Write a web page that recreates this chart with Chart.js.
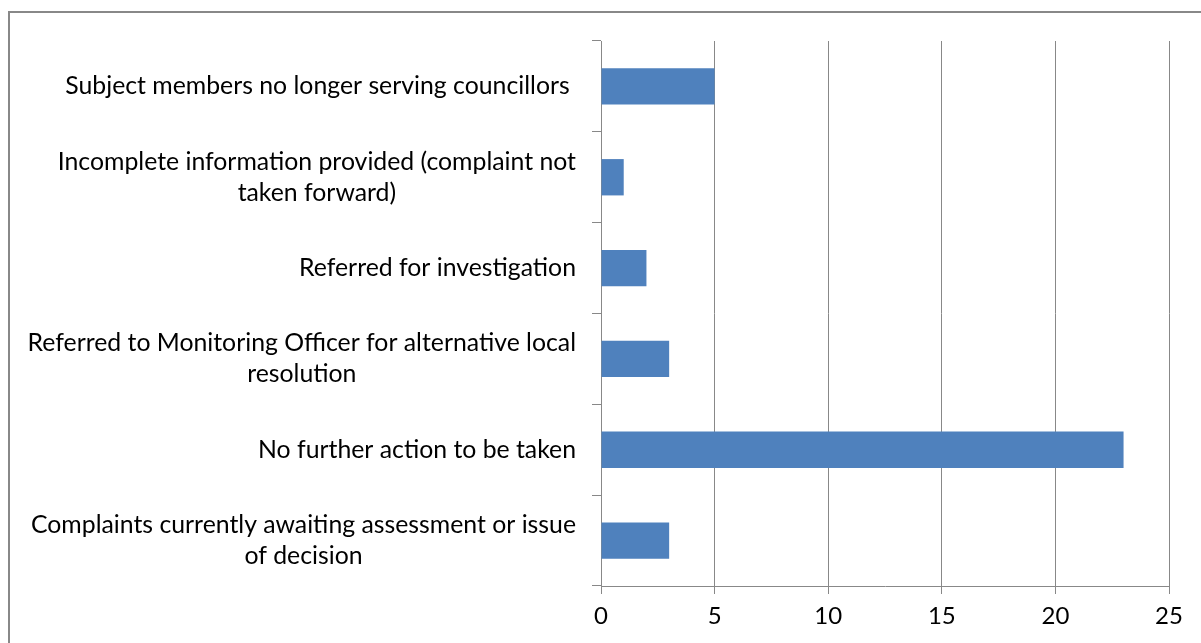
<!DOCTYPE html>
<html>
<head>
<meta charset="utf-8">
<script src="https://cdn.jsdelivr.net/npm/chart.js@4.4.1/dist/chart.umd.min.js"></script>
<style>
  html, body { margin: 0; padding: 0; background: #fff; }
  canvas { display: block; }
</style>
</head>
<body>
<canvas id="grafico" width="1201" height="643"></canvas>
<script>
// Datos del grafico
const categorias = [
  ["Subject members no longer serving councillors "],
  ["Incomplete information provided (complaint not", "taken forward)"],
  ["Referred for investigation"],
  ["Referred to Monitoring Officer for alternative local", "resolution"],
  ["No further action to be taken"],
  ["Complaints currently awaiting assessment or issue", "of decision"]
];
const valores = [5, 1, 2, 3, 23, 3];
const ejeMin = 0;
const ejeMax = 25;
const ejePaso = 5;

const fuente = "Lato, 'Open Sans', sans-serif";
const tamFuente = 24.8;
const gris = "#888888";

// Marco gris alrededor del grafico (como en Excel)
const marco = {
  id: "marco",
  beforeDraw(chart) {
    const ctx = chart.ctx;
    ctx.save();
    ctx.strokeStyle = gris;
    ctx.lineWidth = 2;
    ctx.beginPath();
    ctx.moveTo(9, 643);
    ctx.lineTo(9, 12);
    ctx.lineTo(1201, 12);
    ctx.stroke();
    ctx.restore();
  }
};

// Etiquetas de categorias: bloque alineado a la derecha, lineas centradas entre si
const etiquetas = {
  id: "etiquetas",
  afterDraw(chart) {
    const ctx = chart.ctx;
    const escalaY = chart.scales.y;
    const derecha = 576;
    const altoLinea = 31;
    ctx.save();
    ctx.font = tamFuente + "px " + fuente;
    ctx.fillStyle = "#000";
    ctx.textAlign = "center";
    ctx.textBaseline = "middle";
    categorias.forEach((lineas, i) => {
      const y = escalaY.getPixelForValue(i);
      let ancho = 0;
      lineas.forEach(l => { ancho = Math.max(ancho, ctx.measureText(l).width); });
      const cx = derecha - ancho / 2;
      lineas.forEach((l, j) => {
        ctx.fillText(l, cx, y + (j - (lineas.length - 1) / 2) * altoLinea);
      });
    });
    ctx.restore();
  }
};

const ctx = document.getElementById("grafico").getContext("2d");
new Chart(ctx, {
  type: "bar",
  data: {
    labels: categorias,
    datasets: [{
      data: valores,
      backgroundColor: "#4F81BD",
      borderWidth: 0,
      categoryPercentage: 1,
      barPercentage: 0.4
    }]
  },
  options: {
    indexAxis: "y",
    responsive: false,
    devicePixelRatio: 1,
    animation: false,
    layout: { padding: { top: 41, right: 32, left: 0, bottom: 0 } },
    plugins: {
      legend: { display: false },
      tooltip: { enabled: false }
    },
    scales: {
      x: {
        min: ejeMin,
        max: ejeMax,
        ticks: {
          stepSize: ejePaso,
          color: "#000",
          font: { family: fuente, size: 24 },
          padding: 8
        },
        grid: { color: gris, lineWidth: 1, tickLength: 8 },
        border: { color: gris, width: 1 },
        afterFit(scale) { scale.height = 57; }
      },
      y: {
        ticks: { display: false },
        grid: { color: gris, lineWidth: 1, tickLength: 9, drawOnChartArea: false, offset: true },
        border: { color: gris, width: 1 },
        afterFit(scale) { scale.width = 601; }
      }
    }
  },
  plugins: [marco, etiquetas]
});
</script>
</body>
</html>
